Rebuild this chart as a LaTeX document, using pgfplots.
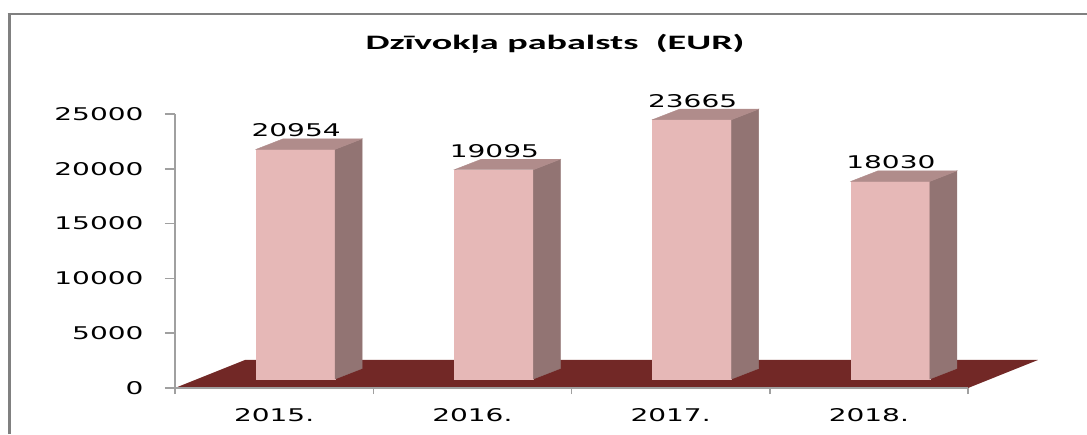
\documentclass[border=0pt]{standalone}
\usepackage{fontspec}
\usepackage{pgfplots}
\pgfplotsset{compat=1.18}
\newfontfamily\vfont[FakeStretch=1.6]{DejaVu Sans}
\newfontfamily\tfont[FakeStretch=1.86]{Carlito Bold}
\definecolor{barfront}{HTML}{E6B8B7}
\definecolor{barside}{HTML}{927473}
\definecolor{bartop}{HTML}{B08C8B}
\definecolor{floorred}{HTML}{722826}
\definecolor{axgray}{HTML}{A0A0A0}
\definecolor{framegray}{HTML}{808080}
\pgfdeclareplotmark{nothing}{}
\pgfplotstableread{
x y
0 20954
1 19095
2 23665
3 18030
}\datatable
\begin{document}
\begin{tikzpicture}
\useasboundingbox (0,0) rectangle (1087pt,434pt);
\fill[white] (0,0) rectangle (1087pt,434pt);
\draw[framegray, line width=3pt] (9pt,0) -- (9pt,420pt);
\draw[framegray, line width=2pt] (7.5pt,420pt) -- (1087pt,420pt);
\node[font=\tfont\fontsize{20.5}{23}\selectfont, anchor=base, inner sep=0pt] at (555pt,384pt) {Dzīvokļa pabalsts\ \ (EUR)};
\begin{axis}[
  at={(175pt,46pt)}, anchor=south west,
  scale only axis, width=793pt, height=274pt,
  xmin=-0.5, xmax=3.5, ymin=0, ymax=25000,
  clip=false, axis on top,
  axis x line*=bottom, axis y line*=left,
  axis line style={axgray, line width=1.5pt},
  tick align=outside,
  major tick length=10pt,
  tick style={axgray, line width=1.5pt},
  scaled y ticks=false,
  ytick={0,5000,10000,15000,20000,25000},
  /pgf/number format/1000 sep={},
  /pgf/number format/assume math mode=true,
  xtick={0,1,2,3},
  xticklabels={2015.,2016.,2017.,2018.},
  xtick style={draw=none},
  extra x ticks={-0.5,0.5,1.5,2.5,3.5},
  extra x tick labels={},
  extra x tick style={major tick length=6pt, xtick style={draw=axgray}},
  ticklabel style={font=\vfont\fontsize{17.5}{20}\selectfont, text=black},
  yticklabel style={font=\vfont\fontsize{17.5}{20}\selectfont, xshift=-18pt},
  xticklabel style={yshift=-7pt},
]
\addplot[fill=floorred, draw=none] coordinates {(-0.5,0) (3.5,0) (3.853,2555) (-0.147,2555)} -- cycle;
\addplot[scatter, only marks, mark=nothing,
  point meta=explicit symbolic,
  scatter/@pre marker code/.code={%
    \edef\val{\pgfplotspointmeta}%
    \edef\h{\fpeval{\val*274/25000}}%
    \edef\yb{\fpeval{9-\h}}%
    \edef\ybs{\fpeval{19.5-\h}}%
    \fill[barfront] (-18pt,\yb pt) rectangle (61pt,9pt);
    \fill[barside] (61pt,\yb pt) -- (88pt,\ybs pt) -- (88pt,19.5pt) -- (61pt,9pt) -- cycle;
    \fill[bartop] (-18pt,9pt) -- (61pt,9pt) -- (88pt,19.5pt) -- (9pt,19.5pt) -- cycle;
    \node[font=\vfont\fontsize{17.5}{20}\selectfont, anchor=base, text=black, inner sep=0pt] at (22pt,21.5pt) {\val};
  },
  scatter/@post marker code/.code={},
] table[x=x, y=y, meta=y] {\datatable};
\end{axis}
\end{tikzpicture}
\end{document}
